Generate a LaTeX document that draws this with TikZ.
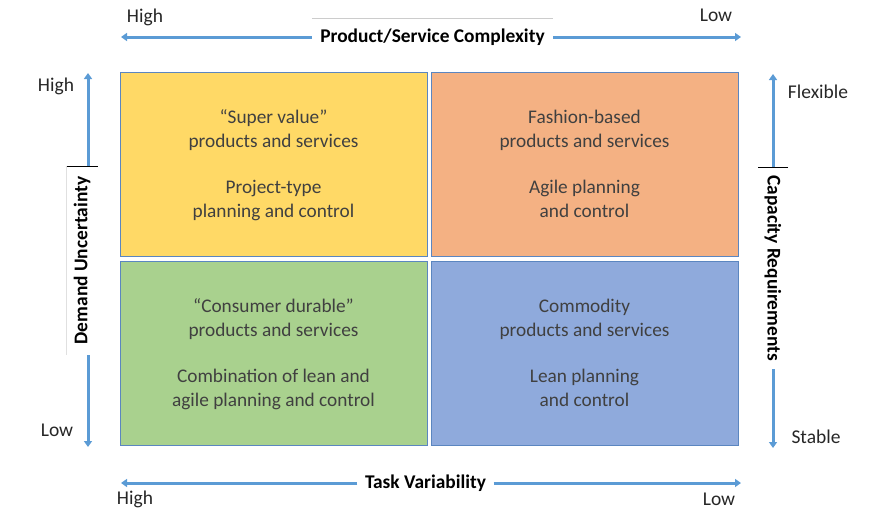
\documentclass[tikz,border=0pt]{standalone}
\usepackage{fontspec}
\setmainfont{Carlito}
\usepackage{xcolor}
\usetikzlibrary{arrows.meta}

\definecolor{quadline}{HTML}{5B86C0}
\definecolor{quadtext}{HTML}{404040}
\definecolor{axisblue}{HTML}{5B9BD5}
\definecolor{fillyellow}{HTML}{FFD966}
\definecolor{fillorange}{HTML}{F4B183}
\definecolor{fillgreen}{HTML}{A9D18E}
\definecolor{fillblue}{HTML}{8FAADC}

\begin{document}
\begin{tikzpicture}[x=1pt, y=-1pt,
  quad/.style={draw=quadline, line width=0.8pt, minimum width=307pt, minimum height=184pt,
    inner sep=0pt, text depth=0pt, align=center, text=quadtext, font=\fontsize{19.3}{24}\selectfont},
  axis/.style={draw=axisblue, line width=3pt, -{Triangle[length=6pt,width=8pt]}},
  axlabel/.style={font=\bfseries\fontsize{19.4}{22}\selectfont, inner sep=0pt, text=black},
  endlabel/.style={font=\fontsize{19.5}{22}\selectfont, text=black!85}]
\useasboundingbox (0,0) rectangle (872,514);

% Quadrants
\node[quad, fill=fillyellow] (superval) at (273.5,164) {``Super value''\\products and services\\[22pt]Project-type\\planning and control};
\node[quad, fill=fillorange] (fashion) at (584.5,164) {Fashion-based\\products and services\\[22pt]Agile planning\\and control};
\node[quad, fill=fillgreen] (durable) at (273.5,353) {``Consumer durable''\\products and services\\[22pt]Combination of lean and\\agile planning and control};
\node[quad, fill=fillblue] (commodity) at (584.5,353) {Commodity\\products and services\\[22pt]Lean planning\\and control};

% Top axis
\node[axlabel, minimum width=241pt, minimum height=38pt] (complexity) at (432.5,37) {Product/Service Complexity};
\draw[black!20, line width=0.6pt] (complexity.north west) -- (complexity.north east);
\coordinate (cxhigh) at (121,37);
\coordinate (cxlow) at (741,37);
\draw[axis] (complexity.west) -- (cxhigh);
\draw[axis] (complexity.east) -- (cxlow);
\node[endlabel] (cxhightxt) at (145,17) {High};
\node[endlabel] (cxlowtxt) at (716,15) {Low};

% Bottom axis
\node[axlabel, minimum width=136pt, minimum height=20pt] (variability) at (425.5,483) {Task Variability};
\coordinate (tvhigh) at (121,483);
\coordinate (tvlow) at (741,483);
\draw[axis] (variability.west) -- (tvhigh);
\draw[axis] (variability.east) -- (tvlow);
\node[endlabel] (tvhightxt) at (135,499) {High};
\node[endlabel] (tvlowtxt) at (719,499) {Low};

% Left axis
\node[axlabel, rotate=90, minimum width=189pt, minimum height=32pt] (uncertainty) at (82,260.5) {Demand Uncertainty};
\draw[black, line width=0.6pt] (uncertainty.north east) -- (uncertainty.south east);
\draw[black!12, line width=0.6pt] (uncertainty.north east) -- (uncertainty.north west);
\coordinate (duhigh) at (88,73);
\coordinate (dulow) at (88,447);
\draw[axis] ([xshift=6pt]uncertainty.east) -- (duhigh);
\draw[axis] ([xshift=6pt]uncertainty.west) -- (dulow);
\node[endlabel] (duhightxt) at (56,86) {High};
\node[endlabel] (dulowtxt) at (57,430) {Low};

% Right axis
\node[axlabel, rotate=-90, minimum width=202pt, minimum height=30pt] (capacity) at (773,268) {Capacity Requirements};
\draw[black, line width=0.6pt] (capacity.north west) -- (capacity.south west);
\coordinate (crflex) at (773,74);
\coordinate (crstable) at (773,448);
\draw[axis] (capacity.west) -- (crflex);
\draw[axis] (capacity.east) -- (crstable);
\node[endlabel] (crflextxt) at (818,92) {Flexible};
\node[endlabel] (crstabletxt) at (816,437) {Stable};
\end{tikzpicture}
\end{document}
